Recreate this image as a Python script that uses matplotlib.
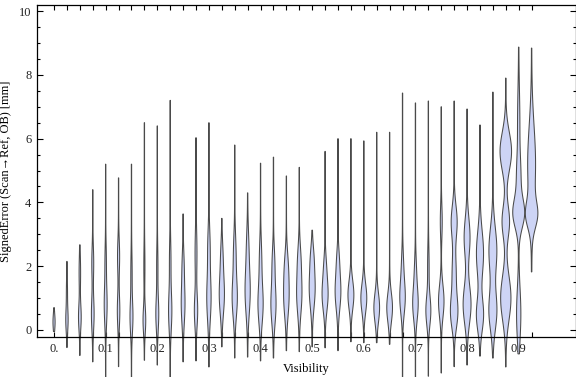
import numpy as np
import matplotlib
matplotlib.use("Agg")
import matplotlib.pyplot as plt
from matplotlib.ticker import MultipleLocator

# ---- data ----
visibility = [0.0, 0.025, 0.05, 0.075, 0.1, 0.125, 0.15, 0.175, 0.2, 0.225,
              0.25, 0.275, 0.3, 0.325, 0.35, 0.375, 0.4, 0.425, 0.45, 0.475,
              0.5, 0.525, 0.55, 0.575, 0.6, 0.625, 0.65, 0.675, 0.7, 0.725,
              0.75, 0.775, 0.8, 0.825, 0.85, 0.875, 0.9, 0.925]

err_min = [-0.05, -0.55, -0.8, -1.0, -1.5, -1.15, -1.5, -0.95, -1.1, -1.5,
           -1.0, -0.97, -1.16, -0.53, -0.88, -0.85, -0.97, -0.88, -0.65, -0.68,
           -0.53, -0.56, -0.65, -0.37, -0.4, -0.4, -0.45, -1.5, -1.5, -1.45,
           -1.35, -1.15, -1.1, -0.82, -0.88, -1.16, -0.75, 1.82]

err_max = [0.7, 2.15, 2.67, 4.4, 5.2, 4.77, 5.2, 6.5, 6.4, 7.2,
           3.64, 6.03, 6.5, 3.5, 5.8, 4.3, 5.23, 5.42, 4.83, 5.1,
           3.13, 5.6, 6.0, 6.0, 5.93, 6.2, 6.2, 7.43, 7.12, 7.18,
           7.0, 7.18, 6.93, 6.43, 7.46, 7.9, 8.87, 8.84]

# density modes per violin: (centre, spread, relative density)
modes = [
    [(0.25, 0.25, 0.9)],
    [(0.3, 0.35, 1.0), (1.2, 0.4, 0.4)],
    [(0.4, 0.4, 1.2), (1.8, 0.5, 0.6)],
    [(0.5, 0.5, 1.2), (2.1, 0.5, 0.8)],
    [(0.8, 0.6, 1.3), (2.2, 0.5, 0.5)],
    [(0.6, 0.5, 1.1), (2.3, 0.5, 0.9)],
    [(0.4, 0.5, 1.3), (1.8, 0.6, 0.5)],
    [(0.3, 0.4, 1.2), (2.0, 0.6, 0.4)],
    [(0.5, 0.5, 1.3), (2.0, 0.6, 0.5)],
    [(0.6, 0.6, 1.5), (2.2, 0.6, 0.6)],
    [(0.8, 0.6, 1.7), (2.0, 0.5, 0.8)],
    [(0.6, 0.5, 1.5), (2.4, 0.7, 0.8)],
    [(1.0, 0.7, 2.0), (2.6, 0.6, 1.0)],
    [(1.1, 0.6, 2.4), (2.3, 0.5, 0.9)],
    [(1.0, 0.6, 2.4), (2.4, 0.6, 1.1)],
    [(1.2, 0.7, 2.4), (2.6, 0.6, 0.9)],
    [(0.8, 0.6, 2.4), (2.2, 0.6, 1.0)],
    [(0.8, 0.6, 2.4), (2.1, 0.5, 1.1)],
    [(1.0, 0.6, 2.4), (2.0, 0.5, 1.4)],
    [(1.1, 0.6, 2.4), (2.2, 0.5, 1.3)],
    [(1.3, 0.6, 2.8), (2.3, 0.4, 1.1)],
    [(1.1, 0.5, 2.8), (2.0, 0.4, 0.9)],
    [(1.2, 0.55, 2.7), (2.2, 0.4, 0.9)],
    [(1.1, 0.45, 2.8)],
    [(1.0, 0.45, 2.8)],
    [(0.7, 0.45, 2.7)],
    [(0.7, 0.45, 2.7)],
    [(1.0, 0.5, 2.5), (2.0, 0.5, 0.8)],
    [(0.8, 0.5, 2.5), (1.8, 0.5, 0.8)],
    [(0.6, 0.45, 2.3), (2.0, 0.6, 0.6)],
    [(0.9, 0.5, 2.6), (3.4, 0.5, 0.8)],
    [(0.55, 0.5, 3.4), (1.8, 0.6, 1.8), (3.4, 0.5, 2.8)],
    [(0.8, 0.6, 3.8), (2.9, 0.6, 2.8)],
    [(0.47, 0.5, 3.4), (2.4, 0.7, 3.4)],
    [(0.6, 0.6, 3.8), (2.5, 0.7, 3.8)],
    [(1.0, 0.7, 5.0), (3.4, 0.5, 3.6), (5.6, 0.6, 5.6)],
    [(0.5, 0.8, 2.0), (3.65, 0.45, 5.5), (4.8, 0.6, 1.8), (6.5, 1.0, 1.0)],
    [(3.6, 0.4, 4.5), (5.2, 1.2, 3.8)],
]

tick_labels = ["0.", "0.1", "0.2", "0.3", "0.4", "0.5", "0.6", "0.7", "0.8", "0.9"]

# ---- figure ----
plt.rcParams['font.family'] = ['Liberation Serif', 'DejaVu Serif']
fig = plt.figure(figsize=(5.76, 3.77), dpi=100)
W, H = 576, 377
ax = fig.add_axes([37 / W, (H - 337) / H, (575.5 - 37) / W, (337 - 5) / H])

xmin, xmax = -0.033, 1.010
ymin, ymax = -0.22, 10.19
ax.set_xlim(xmin, xmax)
ax.set_ylim(ymin, ymax)

# scale density units (about one pixel) to x data units
px_per_x = (575.5 - 37) / (xmax - xmin)
dscale = 1.0 / px_per_x

for xv, lo, hi, md in zip(visibility, err_min, err_max, modes):
    yy = np.linspace(lo, hi, 400)
    hw = np.full_like(yy, 0.15)
    for c, s, a in md:
        hw += a * np.exp(-0.5 * ((yy - c) / s) ** 2)
    hw *= dscale
    xs = np.concatenate([xv - hw, (xv + hw)[::-1]])
    ys = np.concatenate([yy, yy[::-1]])
    ax.fill(xs, ys, facecolor='#cdd4f5', edgecolor='#4a4a4a', linewidth=0.75,
            clip_on=False, zorder=2)

# ticks
ax.set_xticks(visibility)
ax.set_xticklabels([tick_labels[i // 4] if i % 4 == 0 else "" for i in range(len(visibility))])
ax.yaxis.set_major_locator(MultipleLocator(2))
ax.yaxis.set_minor_locator(MultipleLocator(0.5))
ax.tick_params(axis='both', which='both', direction='in', top=True, right=True,
               labelsize=9, colors='black', width=0.8)
ax.tick_params(axis='x', which='major', length=3.6, pad=4)
ax.tick_params(axis='y', which='major', length=4.2, pad=4)
ax.tick_params(axis='y', which='minor', length=2.4)
for lab in ax.get_xticklabels() + ax.get_yticklabels():
    lab.set_color('#222222')
    lab.set_zorder(5)

for sp in ax.spines.values():
    sp.set_linewidth(0.9)
    sp.set_zorder(4)

ax.set_xlabel("Visibility", fontsize=9, labelpad=6)
ax.set_ylabel("SignedError (Scan\u2192Ref, OB) [mm]", fontsize=9, labelpad=5)
ax.patch.set_visible(False)

fig.savefig("out.png", dpi=100)
